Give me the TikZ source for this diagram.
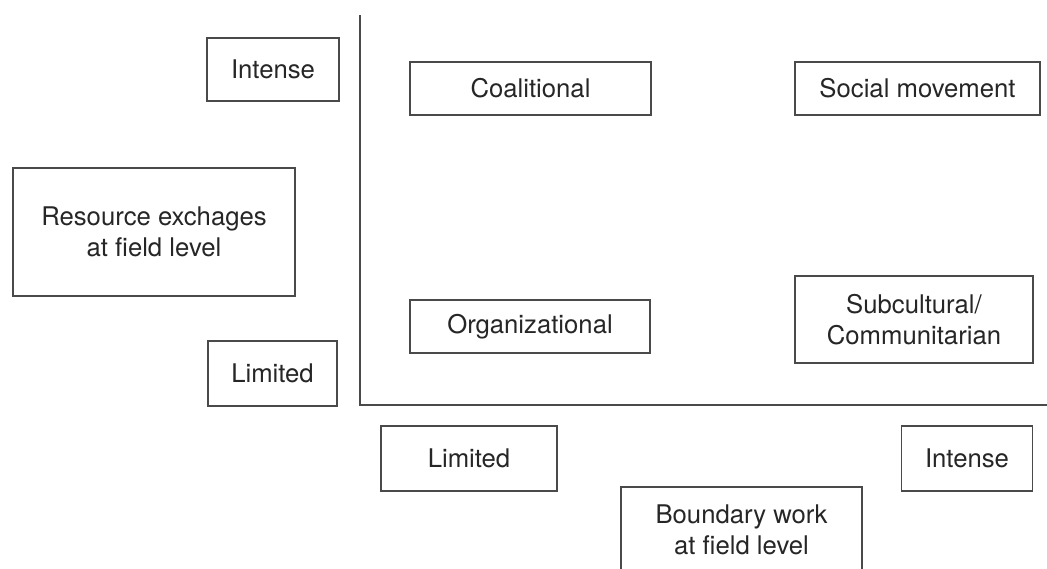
\documentclass[tikz,border=0pt]{standalone}
\usepackage{fontspec}
\setmainfont{TeX Gyre Heros}
\definecolor{ink}{HTML}{4A4A4A}
\definecolor{txt}{HTML}{262626}
\begin{document}
\begin{tikzpicture}[x=1pt,y=-1pt,
  label box/.style={draw=ink, line width=1.8pt, rectangle, inner sep=0pt,
    align=center, text=txt, font=\fontsize{25.7}{31}\selectfont},
  axis line/.style={draw=ink, line width=2pt}]
  \useasboundingbox (0,0) rectangle (1047,568);
  \clip (0,0) rectangle (1047,568);

  % axes of the two dimensions
  \coordinate (top) at (360,15);
  \coordinate (origin) at (360,405);
  \coordinate (right) at (1047,405);
  \draw[axis line] (top) -- (origin) -- (right);

  % vertical dimension
  \node[label box, minimum width=132, minimum height=63] (yhigh) at (273,69.5) {Intense};
  \node[label box, minimum width=282, minimum height=128] (ytitle) at (154,232) {Resource exchages\\at field level};
  \node[label box, minimum width=129, minimum height=65] (ylow) at (272.5,373.5) {Limited};

  % quadrants
  \node[label box, minimum width=241, minimum height=53] (coal) at (530.5,88.5) {Coalitional};
  \node[label box, minimum width=245, minimum height=53] (soc) at (917.5,88.5) {Social movement};
  \node[label box, minimum width=240, minimum height=53] (org) at (530,326.5) {Organizational};
  \node[label box, minimum width=238, minimum height=87] (sub) at (914,319.5) {Subcultural/\\Communitarian};

  % horizontal dimension
  \node[label box, minimum width=176, minimum height=65] (xlow) at (469,458.5) {Limited};
  \node[label box, minimum width=131, minimum height=65] (xhigh) at (967,458.5) {Intense};
  \node[label box, minimum width=241, minimum height=86] (xtitle) at (741.5,530) {Boundary work\\at field level};
\end{tikzpicture}
\end{document}
